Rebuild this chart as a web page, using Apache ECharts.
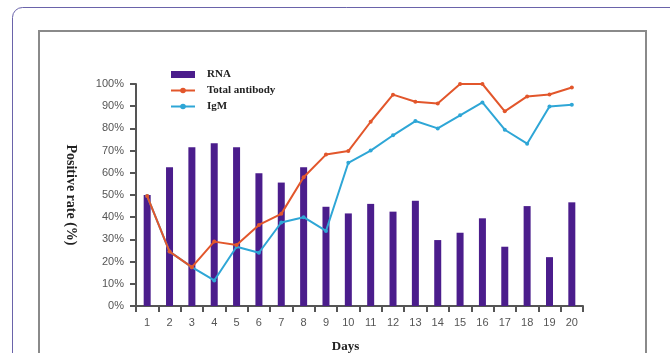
<!DOCTYPE html>
<html>
<head>
<meta charset="utf-8">
<script src="https://cdn.jsdelivr.net/npm/echarts@6/dist/echarts.min.js"></script>
<style>html,body{margin:0;padding:0;background:#fff;overflow:hidden}#c{width:670px;height:353px}</style>
</head>
<body>
<div id="c"></div>
<script>
const days = ['1','2','3','4','5','6','7','8','9','10','11','12','13','14','15','16','17','18','19','20'];
const rna = [50, 62.5, 71.5, 73.3, 71.5, 59.8, 55.6, 62.5, 44.7, 41.7, 46, 42.5, 47.4, 29.7, 33, 39.5, 26.7, 45, 22, 46.7];
const totalAntibody = [49.5, 24.5, 17.5, 29, 27.5, 36.5, 41.5, 58, 68.2, 69.8, 83, 95.2, 92, 91.2, 100, 100, 87.7, 94.4, 95.3, 98.4];
const igm = [49.5, 24.5, 17.5, 11.5, 26.7, 24, 37.6, 40, 33.8, 64.5, 70, 76.9, 83.3, 80, 85.9, 91.7, 79.4, 73.1, 89.9, 90.6];
const yTicks = ['0%','10%','20%','30%','40%','50%','60%','70%','80%','90%','100%'];

const chart = echarts.init(document.getElementById('c'), null, {renderer:'canvas', width:670, height:353});
const serif = '"Liberation Serif","DejaVu Serif",serif';
const sans = '"Liberation Sans",Arial,sans-serif';
chart.setOption({
  animation:false,
  backgroundColor:'#fff',
  graphic:[
    {type:'rect', shape:{x:12.5,y:7.5,width:700,height:400,r:10}, style:{fill:'none',stroke:'#6a63aa',lineWidth:1}, z:-10},
    {type:'rect', shape:{x:39,y:31,width:607,height:400}, style:{fill:'none',stroke:'#8a8a8a',lineWidth:2}, z:-10}
  ],
  grid:{left:136, width:447, top:84, height:222, containLabel:false, outerBoundsMode:'none'},
  legend:{
    orient:'vertical', left:165, top:64, itemGap:5, itemWidth:24, itemHeight:7,
    textStyle:{fontFamily:serif, fontWeight:'bold', fontSize:11, color:'#222', padding:[0,0,0,7]},
    data:[{name:'RNA', icon:'rect'},{name:'Total antibody'},{name:'IgM'}]
  },
  xAxis:{
    type:'category', data:days,
    name:'Days', nameLocation:'middle', nameGap:34,
    nameTextStyle:{fontFamily:serif, fontWeight:'bold', fontSize:13, color:'#222', padding:[0,28,0,0]},
    axisLine:{lineStyle:{color:'#555', width:2}},
    axisTick:{show:true, length:6, lineStyle:{color:'#555', width:2}},
    axisLabel:{fontFamily:sans, fontSize:11, color:'#555', margin:11}
  },
  yAxis:{
    type:'value', min:0, max:100, interval:10,
    name:'Positive rate (%)', nameLocation:'middle', nameGap:58, nameRotate:-90,
    nameTextStyle:{fontFamily:serif, fontWeight:'bold', fontSize:14, color:'#222'},
    axisLine:{show:true, lineStyle:{color:'#555', width:2}},
    axisTick:{show:true, length:6, lineStyle:{color:'#555', width:2}},
    splitLine:{show:false},
    axisLabel:{fontFamily:sans, fontSize:11, color:'#555', margin:12,
      formatter:(v)=>yTicks[Math.round(v/10)]}
  },
  series:[
    {name:'RNA', type:'bar', data:rna, barWidth:7, itemStyle:{color:'#4b1d8c'}, z:2},
    {name:'IgM', type:'line', data:igm, symbol:'circle', symbolSize:4, lineStyle:{color:'#2ea6d6', width:2}, itemStyle:{color:'#2ea6d6'}, z:3},
    {name:'Total antibody', type:'line', data:totalAntibody, symbol:'circle', symbolSize:4, lineStyle:{color:'#e2562b', width:2}, itemStyle:{color:'#e2562b'}, z:4}
  ]
});
</script>
</body>
</html>
